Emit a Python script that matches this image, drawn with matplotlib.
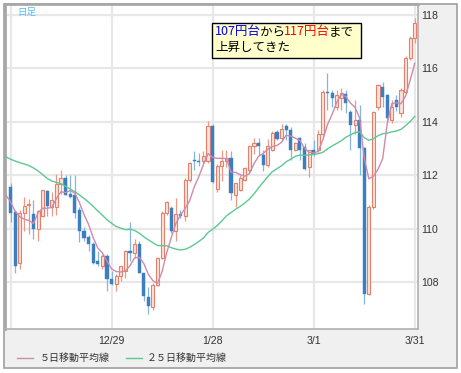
import matplotlib
matplotlib.use('Agg')
import matplotlib.pyplot as plt
from matplotlib.patches import Rectangle
from matplotlib.lines import Line2D
from matplotlib.text import Annotation
import numpy as np

# ---- data (daily candles, index 0..88) ----
opens = [111.56, 110.62, 108.70, 110.58, 110.88, 110.53, 109.99, 110.49, 111.41, 110.80,
         110.80, 111.68, 111.90, 111.30, 111.25, 110.70, 109.92, 109.70, 109.42, 108.77,
         108.60, 108.98, 108.13, 107.94, 108.23, 108.41, 109.17, 109.10, 109.42, 108.35,
         107.45, 107.05, 107.90, 108.90, 110.60, 110.78, 109.92, 110.53, 110.46, 111.82,
         112.56, 112.53, 112.52, 112.52, 113.85, 111.50, 112.33, 112.52, 112.65, 111.25,
         111.44, 111.82, 112.20, 113.09, 113.20, 112.77, 112.39, 112.96, 113.60, 113.40,
         113.85, 113.69, 112.96, 113.38, 113.06, 112.31, 112.94, 112.94, 113.56, 115.13,
         115.06, 114.56, 114.88, 115.04, 114.38, 113.88, 114.06, 113.00, 107.56, 110.81,
         114.56, 115.31, 115.00, 114.06, 114.81, 114.31, 115.13, 116.38, 117.13]
highs = [111.71, 110.68, 110.70, 111.18, 111.12, 111.06, 110.68, 111.46, 111.46, 111.37,
         112.06, 112.19, 112.00, 112.00, 112.00, 110.80, 110.05, 109.75, 109.50, 109.17,
         109.05, 109.05, 108.41, 108.29, 108.60, 109.20, 110.24, 109.60, 109.55, 108.35,
         107.80, 107.95, 108.95, 110.65, 111.05, 110.85, 111.13, 110.70, 111.90, 112.50,
         112.90, 112.84, 112.90, 114.04, 113.90, 112.40, 112.96, 112.96, 112.90, 111.70,
         112.00, 112.30, 113.10, 113.40, 113.40, 112.96, 113.34, 113.66, 113.70, 113.90,
         113.90, 113.81, 113.25, 113.44, 113.19, 112.94, 113.30, 113.69, 115.19, 115.81,
         115.19, 115.19, 115.25, 115.19, 114.44, 114.81, 114.63, 113.06, 110.88, 114.40,
         115.40, 115.50, 115.05, 114.80, 115.00, 115.25, 116.45, 117.20, 117.88]
lows = [110.26, 108.35, 108.50, 109.92, 109.80, 109.61, 109.55, 110.43, 110.49, 110.49,
        110.50, 111.30, 111.25, 111.15, 110.40, 109.50, 109.55, 109.17, 108.67, 108.60,
        108.48, 107.66, 107.90, 107.66, 108.04, 108.16, 108.80, 108.90, 108.35, 107.28,
        106.80, 106.95, 107.85, 108.85, 110.50, 109.85, 109.54, 110.40, 110.30, 111.75,
        112.20, 112.33, 112.45, 112.45, 111.70, 111.38, 111.80, 112.30, 111.06, 110.80,
        111.40, 111.78, 112.10, 112.80, 112.77, 112.14, 112.30, 112.90, 113.30, 113.28,
        113.30, 112.56, 112.90, 112.56, 112.19, 111.94, 112.70, 112.88, 113.44, 114.44,
        114.56, 114.44, 114.44, 114.31, 112.94, 113.56, 112.00, 107.19, 107.50, 110.75,
        114.44, 114.56, 114.00, 113.94, 114.40, 114.19, 115.05, 116.30, 116.94]
closes = [110.58, 108.60, 110.60, 110.83, 110.92, 109.99, 110.65, 111.43, 110.83, 111.06,
          111.68, 111.90, 111.27, 111.20, 110.60, 109.90, 109.65, 109.42, 108.73, 108.67,
          108.98, 108.13, 107.94, 108.23, 108.60, 109.17, 109.10, 109.42, 108.35, 107.47,
          107.10, 107.90, 108.90, 110.60, 111.00, 109.92, 110.56, 110.46, 111.82, 112.46,
          112.52, 112.50, 112.71, 113.85, 111.76, 112.33, 112.52, 112.65, 111.32, 111.70,
          111.89, 112.27, 113.09, 113.19, 113.11, 112.39, 113.09, 113.59, 113.37, 113.72,
          113.70, 112.94, 113.20, 112.94, 112.25, 112.94, 112.80, 113.54, 115.13, 115.06,
          114.88, 115.00, 115.06, 114.69, 113.88, 114.06, 113.00, 107.56, 110.81, 114.38,
          115.38, 114.94, 114.13, 114.56, 114.56, 115.19, 116.38, 117.13, 117.69]
# moving-average values before enough candles are visible, idx -1..
ma5_head = [111.25, 111.00, 110.65, 110.45, 110.35]
ma25_head = [112.68, 112.60, 112.53, 112.47, 112.42, 112.36, 112.27, 112.16, 112.02, 111.88,
             111.78, 111.73, 111.68, 111.58, 111.48, 111.38, 111.26, 111.13, 110.99, 110.83,
             110.66, 110.50, 110.33, 110.20, 110.08]
xtick_pos = [0, 22, 44, 66, 88]
xtick_labels = ['', '12/29', '1/28', '3/1', '3/31']
ytick_vals = [108, 110, 112, 114, 116, 118]
legend_labels = ['５日移動平均線', '２５日移動平均線']

# ---- derived ----
O = np.array(opens); Hh = np.array(highs); L = np.array(lows); C = np.array(closes)
n = len(C)
x = np.arange(n)
ma5 = list(ma5_head) + [C[i - 4:i + 1].mean() for i in range(4, n)]
ma25 = list(ma25_head) + [C[i - 24:i + 1].mean() for i in range(24, n)]

W, H = 461, 373
fig = plt.figure(figsize=(W / 100, H / 100), dpi=100)
fig.patch.set_facecolor('white')


def fx(px):
    return px / W


def fy(py):
    return 1 - py / H


CJK = ['Noto Sans CJK JP', 'DejaVu Sans']
LAT = ['Liberation Sans', 'DejaVu Sans']

fig.patches.append(Rectangle((fx(4), fy(368)), fx(457) - fx(4), fy(4) - fy(368),
                             transform=fig.transFigure, facecolor='#f0f0f0',
                             edgecolor='#a0a0a0', lw=1.2, zorder=-5))

ax = fig.add_axes([fx(5), fy(329), fx(418) - fx(5), fy(4) - fy(329)])
ax.set_zorder(1)
ax.set_facecolor('white')
ax.set_axisbelow(True)

pink = '#cf8aae'
green = '#5cc990'
up_edge = '#e5806a'
up_fill = '#fbe2da'
dn_fill = '#3b7fc1'
dn_wick = '#86b6e0'

up = C >= O
dn = ~up
ax.vlines(x[up], L[up], Hh[up], color='#eb9886', lw=0.9, zorder=2)
ax.vlines(x[dn], L[dn], Hh[dn], color=dn_wick, lw=0.9, zorder=2)
bw = 0.68
ax.bar(x[up], np.maximum(C[up] - O[up], 0.03), bottom=O[up], width=bw,
       facecolor=up_fill, edgecolor=up_edge, lw=0.8, zorder=3)
ax.bar(x[dn], np.maximum(O[dn] - C[dn], 0.03), bottom=C[dn], width=bw,
       facecolor=dn_fill, edgecolor=dn_fill, lw=0.3, zorder=3)

ax.plot(np.arange(-1, n), ma25, color=green, lw=1.0, zorder=4)
ax.plot(np.arange(-1, n), ma5, color=pink, lw=1.0, zorder=4)

ax.set_xlim(-1.2, 88.7)
ax.set_ylim(106.24, 118.41)
ax.set_xticks(xtick_pos)
ax.set_xticklabels(xtick_labels)
ax.set_yticks(ytick_vals)
ax.set_yticklabels([str(v) for v in ytick_vals])
ax.yaxis.tick_right()
ax.grid(True, color='#e8e8e8', lw=1.6)
ax.tick_params(axis='y', length=0, pad=2.5, labelsize=7.6, labelcolor='#333333')
ax.tick_params(axis='x', length=0, pad=5, labelsize=7.6, labelcolor='#333333')
for lab in ax.get_xticklabels() + ax.get_yticklabels():
    lab.set_fontfamily(LAT)
for s in ['left', 'top']:
    ax.spines[s].set_color('#a8a8a8')
    ax.spines[s].set_linewidth(2)
for s in ['right', 'bottom']:
    ax.spines[s].set_color('#b0b0b0')
    ax.spines[s].set_linewidth(1.2)

# 日足 label
t = fig.text(fx(17), fy(12.5), '日足', color='#55bbee', fontsize=6.8, family=CJK, va='center')
t.set_zorder(6)

# annotation box
fig.patches.append(Rectangle((fx(212), fy(57.5)), fx(360.5) - fx(212), fy(22.5) - fy(57.5),
                             transform=fig.transFigure, facecolor='#ffffcc',
                             edgecolor='black', lw=1.0, zorder=5))
pieces = [('107円台', '#0000ff'), ('から', 'black'), ('117円台', '#ff0000'), ('まで', 'black')]
prev = fig.text(fx(215), fy(32), pieces[0][0], color=pieces[0][1], fontsize=9,
                family=CJK, va='center', ha='left', zorder=6)
for txt, col in pieces[1:]:
    a = Annotation(txt, xy=(1, 0.5), xycoords=prev, xytext=(-0.8, 0),
                   textcoords='offset points', va='center', ha='left', color=col,
                   fontsize=9, family=CJK, annotation_clip=False)
    a.set_zorder(6)
    fig.add_artist(a)
    prev = a
fig.text(fx(215), fy(47.5), '上昇してきた', color='black', fontsize=9, family=CJK,
         va='center', ha='left', zorder=6)

# legend
fig.add_artist(Line2D([fx(17), fx(33)], [fy(357.5)] * 2, transform=fig.transFigure,
                      color=pink, lw=1.0, zorder=6))
fig.text(fx(40), fy(357.5), legend_labels[0], fontsize=7.2, family=CJK, va='center',
         color='#333333', zorder=6)
fig.add_artist(Line2D([fx(126), fx(142)], [fy(357.5)] * 2, transform=fig.transFigure,
                      color=green, lw=1.0, zorder=6))
fig.text(fx(147), fy(357.5), legend_labels[1], fontsize=7.2, family=CJK, va='center',
         color='#333333', zorder=6)

fig.savefig('out.png', dpi=100, facecolor='white')
